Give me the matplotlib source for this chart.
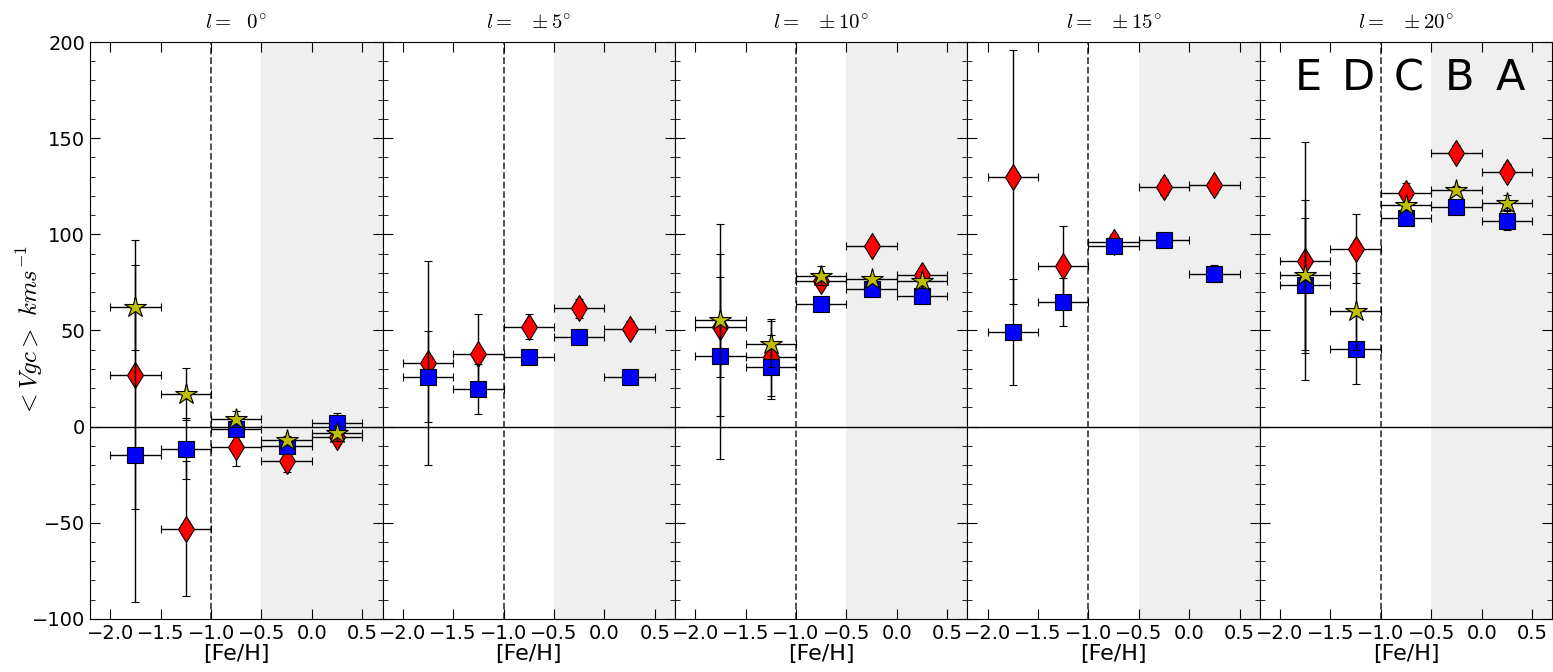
import matplotlib
matplotlib.use('Agg')
import matplotlib.pyplot as plt
from matplotlib.ticker import MultipleLocator

plt.rcParams['mathtext.fontset'] = 'cm'

# [Fe/H] bin centres and half widths
feh = [-1.75, -1.25, -0.75, -0.25, 0.25]
feh_err = [0.25, 0.25, 0.25, 0.25, 0.25]

titles = [r'$l=\ \ 0^{\circ}$', r'$l=\ \ \pm5^{\circ}$', r'$l=\ \ \pm10^{\circ}$',
          r'$l=\ \ \pm15^{\circ}$', r'$l=\ \ \pm20^{\circ}$']
group_labels = ['E', 'D', 'C', 'B', 'A']

# red diamonds
red_v = [
    [27, -53, -10.5, -18, -5.5],
    [33, 38, 52, 61.5, 51],
    [52, 36, 75.5, 94, 79],
    [130, 83.5, 96, 124.5, 125.5],
    [86, 92.5, 121.5, 142.5, 132.5],
]
red_e = [
    [70, 35, 10, 5.5, 2],
    [53, 20.5, 6.5, 5, 4],
    [26, 20, 3, 3, 3],
    [66, 21, 4, 4, 4],
    [62, 18, 5, 4, 4],
]
# blue squares
blue_v = [
    [-15, -11.5, -1.5, -10, 2],
    [26, 19.5, 36, 46.5, 26],
    [36.5, 31, 63.5, 71.5, 68],
    [49, 65, 94, 97, 79.5],
    [73.5, 40.5, 108.5, 114, 107],
]
blue_e = [
    [76, 16, 2, 2, 5],
    [23.5, 13, 2, 2, 2],
    [53.5, 16.5, 2, 2, 2],
    [27.5, 12.5, 2, 2, 4.5],
    [35, 18.5, 2, 2, 5],
]
# yellow stars (missing for +-5 and +-15)
yel_v = [
    [62, 17, 4, -7, -3.5],
    None,
    [55.5, 43, 78.5, 76.5, 75.5],
    None,
    [79, 60, 115, 123, 116.5],
]
yel_e = [
    [22, 13.5, 4, 2, 4],
    None,
    [50, 12, 5, 2, 2],
    None,
    [39, 20, 2, 2, 4],
]

fig, axes = plt.subplots(1, 5, sharey=True, figsize=(15.53, 6.72), dpi=100)
fig.subplots_adjust(left=0.058, right=0.9995, top=0.9375, bottom=0.079, wspace=0)

eb = dict(ecolor='k', elinewidth=1, capsize=3, capthick=1, mec='k', mew=0.8, ls='none')

for i, ax in enumerate(axes):
    ax.axvspan(-0.5, 0.7, color='#efefef', lw=0, zorder=0)
    ax.axvline(-1.0, color='#444444', ls='--', lw=1.3, zorder=1)
    ax.axhline(0, color='k', lw=1, zorder=1)

    ax.errorbar(feh, red_v[i], xerr=feh_err, yerr=red_e[i], fmt='d', mfc='r', ms=13, zorder=3, **eb)
    ax.errorbar(feh, blue_v[i], xerr=feh_err, yerr=blue_e[i], fmt='s', mfc='b', ms=11, zorder=4, **eb)
    if yel_v[i] is not None:
        ax.errorbar(feh, yel_v[i], xerr=feh_err, yerr=yel_e[i], fmt='*', mfc='y', ms=16, zorder=5, **eb)

    ax.set_xlim(-2.2, 0.7)
    ax.set_ylim(-100, 200)
    ax.xaxis.set_major_locator(MultipleLocator(0.5))
    ax.yaxis.set_major_locator(MultipleLocator(50))
    ax.yaxis.set_minor_locator(MultipleLocator(10))
    ax.tick_params(which='both', direction='in', top=True, right=True, labelsize=14)
    ax.tick_params(which='major', length=7)
    ax.tick_params(which='minor', length=3.5)
    ax.set_xlabel('[Fe/H]', fontsize=16, labelpad=1)
    ax.set_title(titles[i], fontsize=15, pad=9)

axes[0].set_ylabel(r'$<Vgc>\ kms^{-1}$', fontsize=18)
axes[0].yaxis.set_label_coords(-0.155, 0.5)

for x, lab in zip(feh, group_labels):
    axes[4].text(x + 0.03, 175, lab, fontsize=31, ha='center', va='baseline')

fig.savefig('out.png', dpi=100)
